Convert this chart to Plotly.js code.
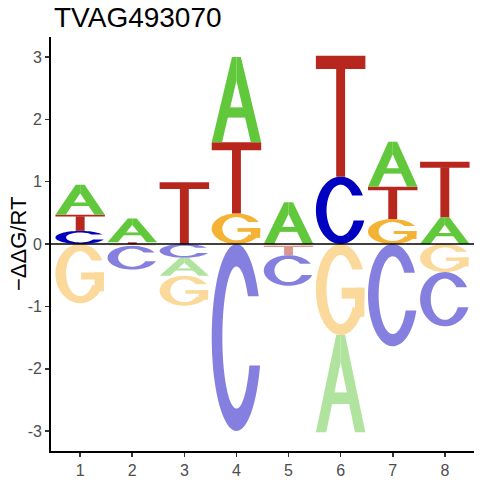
<!DOCTYPE html>
<html><head><meta charset="utf-8">
<script src="https://cdn.plot.ly/plotly-3.0.1.min.js"></script>
<style>html,body{margin:0;padding:0;background:#fff}</style>
</head><body><div id="chart" style="width:480px;height:480px"></div>
<script>
// ---- data ----
const positions = [1, 2, 3, 4, 5, 6, 7, 8];
const valuesA = [0.48, 0.38, -0.29, 1.37, 0.67, -1.56, 0.72, 0.43];
const valuesC = [0.21, -0.38, -0.22, -3.00, -0.49, 1.08, -1.64, -0.87];
const valuesG = [-0.95, -0.03, -0.48, 0.49, -0.03, -1.46, 0.40, -0.45];
const valuesT = [0.26, 0.03, 0.99, 1.14, -0.15, 1.94, 0.52, 0.89];
const yTickVals = [-3, -2, -1, 0, 1, 2, 3];
const yTickText = ['-3', '-2', '-1', '0', '1', '2', '3'];
const chartTitle = 'TVAG493070';
const yTitle = '\u2212\u0394\u0394G/RT';

// ---- styles ----
const colorsPos = {A: '#61c83c', C: '#0000c0', G: '#f5b335', T: '#b8271d'};
const colorsNeg = {A: '#b0e49e', C: '#8580e0', G: '#fad99a', T: '#dc958f'};
const letterWidth = 0.95;

// ---- glyph templates in a unit box ----
function ellipseArc(cx, cy, rx, ry, a0, a1, n) {
  const pts = [];
  for (let i = 0; i <= n; i++) {
    const a = (a0 + (a1 - a0) * i / n) * Math.PI / 180;
    pts.push([cx + rx * Math.cos(a), cy + ry * Math.sin(a)]);
  }
  return pts;
}
function rect(u0, v0, u1, v1) { return [[u0, v0], [u1, v0], [u1, v1], [u0, v1]]; }
const RXO = 0.5, RYO = 0.5, RXI = 0.285, RYI = 0.38;
function ring(vTop, endOuter, endInner) {
  const ao = Math.asin((vTop - 0.5) / RYO) * 180 / Math.PI;
  const ai = Math.asin((vTop - 0.5) / RYI) * 180 / Math.PI;
  const outer = ellipseArc(0.5, 0.5, RXO, RYO, ao, endOuter, 60);
  const inner = ellipseArc(0.5, 0.5, RXI, RYI, endInner, ai, 60);
  return outer.concat(inner);
}
const glyphs = {
  T: [rect(0, 0.89, 1, 1), rect(0.41, 0, 0.59, 0.9)],
  A: [
    [[0, 0], [0.21, 0], [0.5, 0.72], [0.5, 1], [0.41, 1]],
    [[1, 0], [0.79, 0], [0.5, 0.72], [0.5, 1], [0.59, 1]],
    rect(0.25, 0.29, 0.75, 0.41)
  ],
  C: [ring(0.72, 360 + Math.asin((0.35 - 0.5) / RYO) * 180 / Math.PI,
                360 + Math.asin((0.35 - 0.5) / RYI) * 180 / Math.PI)],
  G: [ring(0.72, 330, 330), rect(0.79, 0.2, 0.98, 0.52), rect(0.52, 0.40, 0.98, 0.52)]
};

// ---- build letter shapes through the data axes ----
const table = {A: valuesA, C: valuesC, G: valuesG, T: valuesT};
const shapes = [];
positions.forEach((pos, i) => {
  const items = Object.keys(table).map(b => ({b, v: table[b][i]}));
  const pos_ = items.filter(d => d.v > 0).sort((a, b) => a.v - b.v);
  const neg_ = items.filter(d => d.v < 0).sort((a, b) => b.v - a.v);
  const drawLetter = (b, y0, y1, col) => {
    glyphs[b].forEach(poly => {
      const path = 'M' + poly.map(([u, v]) =>
        (pos - letterWidth / 2 + u * letterWidth) + ',' + (y0 + v * (y1 - y0))).join('L') + 'Z';
      shapes.push({type: 'path', xref: 'x', yref: 'y', path, fillcolor: col,
                   line: {width: 0}, layer: 'above'});
    });
  };
  let acc = 0;
  pos_.forEach(d => { drawLetter(d.b, acc, acc + d.v, colorsPos[d.b]); acc += d.v; });
  acc = 0;
  neg_.forEach(d => { drawLetter(d.b, acc + d.v, acc, colorsNeg[d.b]); acc += d.v; });
});
shapes.push({type: 'line', xref: 'paper', x0: 0, x1: 1, yref: 'y', y0: 0, y1: 0,
             line: {color: '#000', width: 1.3}, layer: 'above'});

const trace = {x: positions, y: positions.map(() => 0), type: 'scatter', mode: 'markers',
               marker: {opacity: 0}, hoverinfo: 'skip', showlegend: false};

const fontFam = '"Liberation Sans", Arial, sans-serif';
const plotW = 480 - 51 - 6;
const layout = {
  width: 480, height: 480,
  margin: {l: 51, r: 6, t: 37, b: 29},
  paper_bgcolor: '#fff', plot_bgcolor: '#fff',
  title: {text: chartTitle, x: 54 / 480, xanchor: 'left', xref: 'container',
          y: 1 - 17 / 480, yanchor: 'middle', yref: 'container',
          font: {family: fontFam, size: 28, color: '#000'}},
  xaxis: {range: [0.44, 8.56], tickvals: positions, ticktext: positions.map(String),
          showgrid: false, zeroline: false, showline: true, linecolor: '#000', linewidth: 1.8,
          ticks: 'outside', ticklen: 4, tickwidth: 1.6, tickcolor: '#333',
          tickfont: {family: fontFam, size: 16, color: '#4d4d4d'}, fixedrange: true},
  yaxis: {range: [-3.32, 3.32], tickvals: yTickVals, ticktext: yTickText,
          showgrid: false, zeroline: false, showline: true, linecolor: '#000', linewidth: 1.8,
          ticks: 'outside', ticklen: 4, tickwidth: 1.6, tickcolor: '#333',
          tickfont: {family: fontFam, size: 16, color: '#4d4d4d'},
          fixedrange: true},
  annotations: [{text: yTitle, xref: 'paper', yref: 'paper', x: (18 - 51) / plotW, y: 0.5,
                 xanchor: 'center', yanchor: 'middle', textangle: -90, showarrow: false,
                 font: {family: fontFam, size: 22, color: '#000'}}],
  shapes: shapes,
  showlegend: false
};
Plotly.newPlot('chart', [trace], layout, {displayModeBar: false, staticPlot: true});
</script></body></html>
